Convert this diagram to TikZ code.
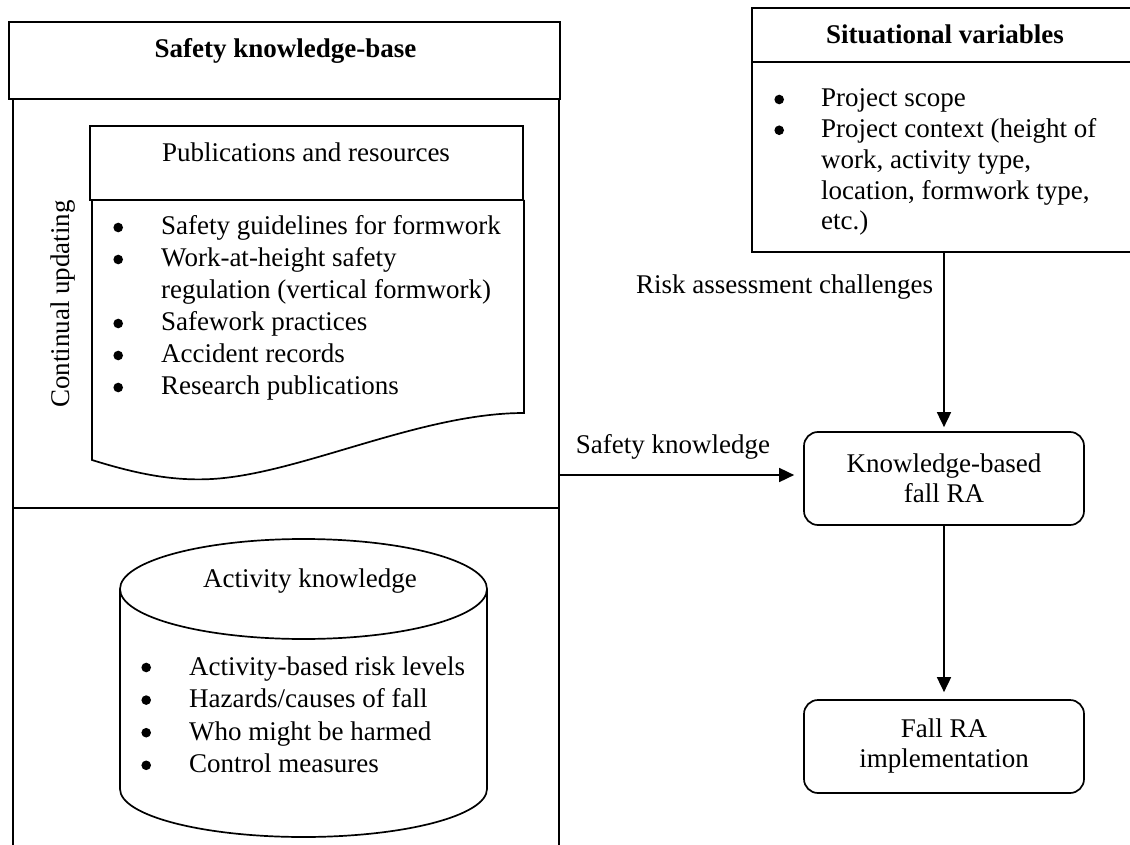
\documentclass[tikz,border=0pt]{standalone}
\usepackage{fontspec}
\setmainfont{Liberation Serif}
\usetikzlibrary{arrows.meta}

\newcommand\dgmfont{\fontsize{27}{32}\selectfont}
% round list marker, centred a little above the baseline
\newcommand\blt{\tikz[baseline=0pt]\fill (0pt,7.5pt) circle[radius=4.8pt];}

\begin{document}
\begin{tikzpicture}[x=1pt,y=-1pt,line width=1.7pt,
  every node/.style={inner sep=0pt,font=\dgmfont},
  flow/.style={-{Triangle[length=15pt,width=14pt]}},
  rabox/.style={draw,rounded corners=14pt,minimum width=280pt,minimum height=93pt,
    align=center,font=\fontsize{27}{30}\selectfont},
  bulletlist/.style={anchor=base west,align=left}]
\useasboundingbox (0,0) rectangle (1130,845);

% ---- safety knowledge-base frame ----
\draw (9,22) rectangle (560,99);
\node[anchor=base,font=\dgmfont\bfseries] (kbtitle) at (285.5,58) {Safety knowledge-base};
\draw (13,99) -- (13,850);
\draw (559,99) -- (559,850);
\draw (13,508) -- (559,508);
\coordinate (kbedge) at (559,475);

\node[anchor=base,rotate=90] (upd) at (69,304) {Continual updating};

% ---- publications document ----
\draw (90,126) rectangle (523,200);
\node[anchor=base] (pubtitle) at (306,162) {Publications and resources};
\draw (92,200) -- (92,460)
  .. controls (140,475) and (175,481) .. (212,479)
  .. controls (300,474) and (420,413) .. (524,413) -- (524,200);
\node[bulletlist] (publist) at (113.2,235) {%
  \begin{tabular}[t]{@{}p{47.8pt}@{}l@{}}
  \blt & Safety guidelines for formwork\\
  \blt & Work-at-height safety\\
       & regulation (vertical formwork)\\
  \blt & Safework practices\\
  \blt & Accident records\\
  \blt & Research publications
  \end{tabular}};

% ---- activity knowledge cylinder ----
\draw (303.5,589) ellipse [x radius=183.5, y radius=50];
\draw (120,589) -- (120,789)
  .. controls (120,815.5) and (202.2,837) .. (303.5,837)
  .. controls (404.8,837) and (487,815.5) .. (487,789) -- (487,589);
\node[anchor=base] (acttitle) at (310,587) {Activity knowledge};
\node[bulletlist,font=\fontsize{27}{32.6}\selectfont] (actlist) at (141.2,675) {%
  \begin{tabular}[t]{@{}p{47.8pt}@{}l@{}}
  \blt & Activity-based risk levels\\
  \blt & Hazards/causes of fall\\
  \blt & Who might be harmed\\
  \blt & Control measures
  \end{tabular}};

% ---- situational variables ----
\draw (752,8) rectangle (1140,252);
\draw (752,62) -- (1140,62);
\node[anchor=base,font=\dgmfont\bfseries] (svtitle) at (945,44) {Situational variables};
\node[bulletlist,font=\fontsize{27}{30.75}\selectfont] (svlist) at (774.2,107) {%
  \begin{tabular}[t]{@{}p{46.8pt}@{}l@{}}
  \blt & Project scope\\
  \blt & Project context (height of\\
       & work, activity type,\\
       & location, formwork type,\\
       & etc.)
  \end{tabular}};
\coordinate (svbot) at (944,252);

% ---- risk assessment flow ----
\node[rabox] (kra) at (944,478.5) {Knowledge-based\\fall RA};
\node[rabox] (fra) at (944,746.5) {Fall RA\\implementation};

\draw[flow,shorten >=4pt] (svbot) -- (kra.north);
\node[anchor=base east] (rac) at (934,293) {Risk assessment challenges};

\draw[flow,shorten >=9pt] (kbedge) -- (kbedge -| kra.west);
\node[anchor=base west] (sk) at (575,453) {Safety knowledge};

\draw[flow,shorten >=7pt] (kra.south) -- (fra.north);
\end{tikzpicture}
\end{document}
